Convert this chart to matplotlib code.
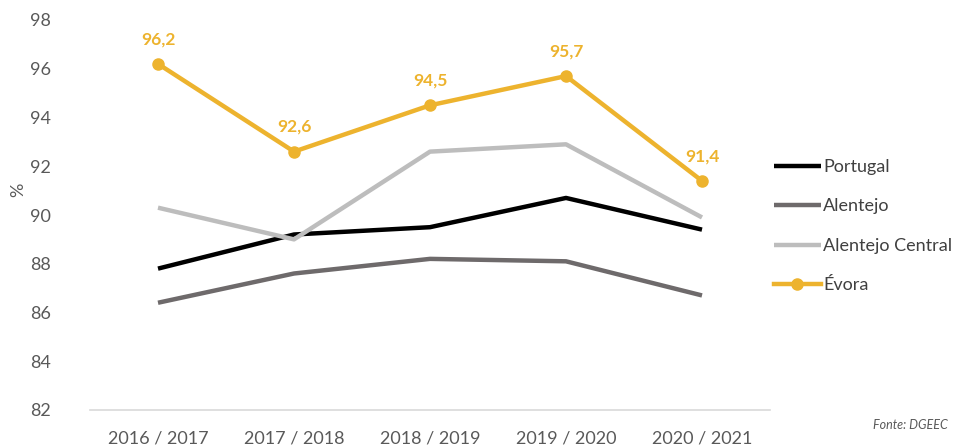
import matplotlib
matplotlib.use("Agg")
import matplotlib.pyplot as plt

categories = ["2016 / 2017", "2017 / 2018", "2018 / 2019", "2019 / 2020", "2020 / 2021"]
portugal = [87.8, 89.2, 89.5, 90.7, 89.4]
alentejo = [86.4, 87.6, 88.2, 88.1, 86.7]
alentejo_central = [90.3, 89.0, 92.6, 92.9, 89.9]
evora = [96.2, 92.6, 94.5, 95.7, 91.4]
yticks = [82, 84, 86, 88, 90, 92, 94, 96, 98]

plt.rcParams['font.family'] = ['Lato', 'DejaVu Sans']

fig = plt.figure(figsize=(9.64, 4.46), dpi=100)
ax = fig.add_axes([90/964, 36/446, 680/964, 390/446])

x = list(range(len(categories)))
gold = "#EDB32E"
ax.plot(x, portugal, color="#000000", lw=3.2, label="Portugal", solid_capstyle="butt")
ax.plot(x, alentejo, color="#6E6A6B", lw=3.2, label="Alentejo", solid_capstyle="butt")
ax.plot(x, alentejo_central, color="#BDBDBD", lw=3.2, label="Alentejo Central", solid_capstyle="butt")
ax.plot(x, evora, color=gold, lw=3.2, marker="o", markersize=8, label="Évora")

for xi, v in zip(x, evora):
    ax.annotate(f"{v:.1f}".replace(".", ","), (xi, v), xytext=(0, 12), textcoords="offset points",
                ha="center", va="bottom", color=gold, fontsize=12.5, fontweight="bold")

ax.set_xlim(-0.5, len(categories) - 0.5)
ax.set_ylim(82, 98)
ax.set_yticks(yticks)
ax.set_yticklabels([str(t) for t in yticks])
ax.set_xticks(x)
ax.set_xticklabels(categories)
ax.tick_params(axis="both", length=0, colors="#595959", labelsize=13)
ax.tick_params(axis="y", pad=28)
ax.tick_params(axis="x", pad=15)
for s in ["top", "right", "left"]:
    ax.spines[s].set_visible(False)
ax.spines["bottom"].set_color("#D9D9D9")
ax.spines["bottom"].set_linewidth(1.2)

fig.text(18/964, 1 - 190/446, "%", rotation=90, ha="center", va="center", color="#595959", fontsize=13)

leg = fig.legend(loc="upper left", bbox_to_anchor=(774/964, 1 - 159/446), frameon=False,
                 fontsize=13, handlelength=2.6, handletextpad=0.12, labelspacing=1.3,
                 borderpad=0, borderaxespad=0)
for t in leg.get_texts():
    t.set_color("#404040")

fig.text(948/964, 1 - 425/446, "Fonte: DGEEC", ha="right", va="center", color="#595959",
         fontsize=9, style="italic")

fig.savefig("out.png", dpi=100)
